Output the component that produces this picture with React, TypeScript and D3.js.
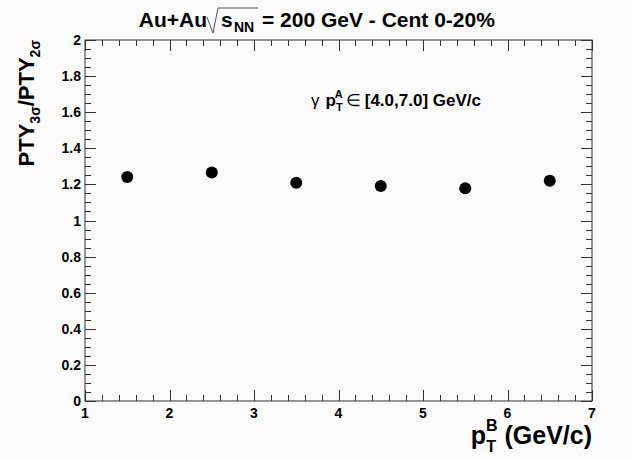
import React from "react";
import * as d3 from "d3";

const xValues = [1.5, 2.5, 3.5, 4.5, 5.5, 6.5];
const yValues = [1.241, 1.266, 1.209, 1.191, 1.178, 1.22];
const xTickLabels = ["1", "2", "3", "4", "5", "6", "7"];
const yTickLabels = ["0", "0.2", "0.4", "0.6", "0.8", "1", "1.2", "1.4", "1.6", "1.8", "2"];

const W = 632, H = 460;
const L = 85, R = 592, T = 40, B = 401;
const FONT = "'Liberation Sans', Arial, Helvetica, sans-serif";

export default function App() {
  const x = d3.scaleLinear().domain([1, 7]).range([L, R]);
  const y = d3.scaleLinear().domain([0, 2]).range([B, T]);

  const xMinor = d3.range(0, 31).map((i) => 1 + i * 0.2);
  const yMinor = d3.range(0, 41).map((i) => i * 0.05);
  const majLen = 11, minLen = 6;

  const isMajorX = (v: number) => Math.abs(v - Math.round(v)) < 1e-6;
  const isMajorY = (v: number) => Math.abs(v * 5 - Math.round(v * 5)) < 1e-6;

  return (
    <svg width={W} height={H} style={{ position: "absolute", left: 0, top: 0 }} fontFamily={FONT}>
      <rect x={0} y={0} width={W} height={H} fill="#fbfbfb" />
      {/* frame */}
      <rect x={L} y={T} width={R - L} height={B - T} fill="none" stroke="#333" strokeWidth={1} />
      {/* x ticks */}
      {xMinor.map((v, i) => {
        const len = isMajorX(v) ? majLen : minLen;
        const px = Math.round(x(v)) + 0.5;
        return (
          <g key={"xt" + i} stroke="#333" strokeWidth={1}>
            <line x1={px} x2={px} y1={B} y2={B - len} />
            <line x1={px} x2={px} y1={T} y2={T + len} />
          </g>
        );
      })}
      {/* y ticks */}
      {yMinor.map((v, i) => {
        const len = isMajorY(v) ? majLen : minLen;
        const py = Math.round(y(v)) + 0.5;
        return (
          <g key={"yt" + i} stroke="#333" strokeWidth={1}>
            <line x1={L} x2={L + len} y1={py} y2={py} />
            <line x1={R} x2={R - len} y1={py} y2={py} />
          </g>
        );
      })}
      {/* x tick labels */}
      {xTickLabels.map((t, i) => (
        <text key={"xl" + i} x={x(+t)} y={418} textAnchor="middle" fontSize={14} fontWeight="bold" fill="#000">
          {t}
        </text>
      ))}
      {/* y tick labels */}
      {yTickLabels.map((t, i) => (
        <text key={"yl" + i} x={81} y={y(+t) + 5} textAnchor="end" fontSize={14} fontWeight="bold" fill="#000">
          {t}
        </text>
      ))}
      {/* points */}
      {xValues.map((v, i) => (
        <circle key={"p" + i} cx={x(v)} cy={y(yValues[i])} r={6} fill="#000" />
      ))}
      {/* title */}
      <text x={207} y={27} textAnchor="end" fontSize={21} fontWeight="bold" fill="#000">Au+Au</text>
      <path d="M207,17 L213,33 L218,8 L258,8" fill="none" stroke="#555" strokeWidth={1} />
      <text x={221} y={27} fontSize={21} fontWeight="bold" fill="#000">s</text>
      <text x={234} y={32} fontSize={14} fontWeight="bold" fill="#000">NN</text>
      <text x={262} y={27} fontSize={21} fontWeight="bold" fill="#000">= 200 GeV - Cent 0-20%</text>
      {/* annotation */}
      <text x={311} y={106} fontSize={17} fontWeight="bold" fill="#000">
        <tspan fontWeight="normal">γ</tspan>
        <tspan dx={6}>p</tspan>
        <tspan dx={0} dy={5} fontSize={11}>T</tspan>
        <tspan dx={-7} dy={-13} fontSize={11}>A</tspan>
        <tspan dx={3} dy={8} fontWeight="normal">∈</tspan>
        <tspan dx={4}>[4.0,7.0] GeV/c</tspan>
      </text>
      {/* x title */}
      <text x={R} y={444} textAnchor="end" fontSize={25} fontWeight="bold" fill="#000">
        <tspan>p</tspan>
        <tspan dy={8} fontSize={16}>T</tspan>
        <tspan dx={-10} dy={-21} fontSize={16}>B</tspan>
        <tspan dx={7} dy={13}>(GeV/c)</tspan>
      </text>
      {/* y title */}
      <text transform={`translate(34,${T}) rotate(-90)`} textAnchor="end" fontSize={22} fontWeight="bold" fill="#000">
        <tspan>PTY</tspan>
        <tspan dy={6} fontSize={14}>3σ</tspan>
        <tspan dy={-6}>/PTY</tspan>
        <tspan dy={6} fontSize={14}>2σ</tspan>
      </text>
    </svg>
  );
}
